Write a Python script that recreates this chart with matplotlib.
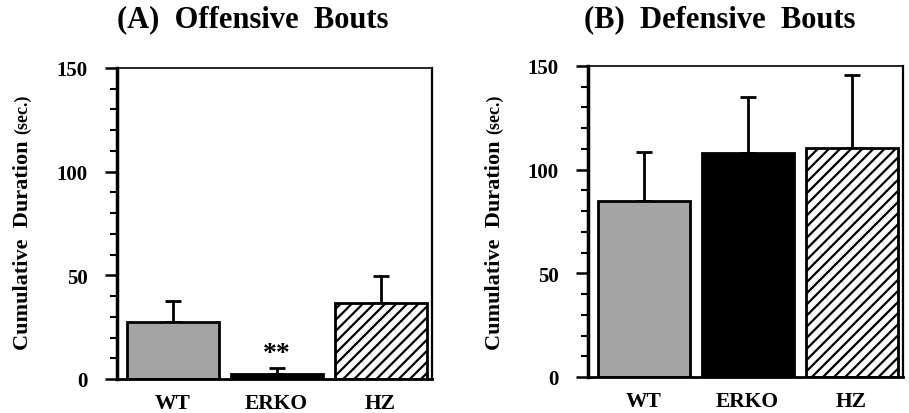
import matplotlib
matplotlib.use("Agg")
import matplotlib.pyplot as plt
from matplotlib.ticker import MultipleLocator

plt.rcParams['font.family'] = ['Liberation Serif', 'DejaVu Serif']
plt.rcParams['font.weight'] = 'bold'
plt.rcParams['hatch.linewidth'] = 1.6

groups = ["WT", "ERKO", "HZ"]
offensive_mean = [27.5, 2.5, 36.5]
offensive_err = [10.0, 3.0, 13.3]
defensive_mean = [85.0, 108.0, 110.5]
defensive_err = [23.5, 27.0, 35.0]
titles = ["(A)  Offensive  Bouts", "(B)  Defensive  Bouts"]
yticks = [0, 50, 100, 150]

W, H = 909, 414
fig = plt.figure(figsize=(W / 100, H / 100), dpi=100)

def px_axes(l, r, t, b):
    return fig.add_axes([l / W, (H - b) / H, (r - l) / W, (b - t) / H])

faces = ['#a4a4a4', 'black', 'white']
hatches = [None, None, '///']

panels = [
    (px_axes(117, 432, 69, 380), offensive_mean, offensive_err, titles[0], 253, 23),
    (px_axes(588, 903, 67, 378), defensive_mean, defensive_err, titles[1], 720, 495),
]

x = list(range(len(groups)))
for ax, means, errs, title, tx, lx in panels:
    bars = ax.bar(x, means, width=0.885, color=faces, edgecolor='black',
                  linewidth=2.0, zorder=2)
    for b, h in zip(bars, hatches):
        if h:
            b.set_hatch(h)
    ax.errorbar(x, means, yerr=[[0] * 3, errs], fmt='none', ecolor='black',
                elinewidth=2.0, capsize=5.5, capthick=2.0, zorder=1)
    ax.set_xlim(-0.534, 2.495)
    ax.set_ylim(0, 150)
    ax.set_yticks(yticks)
    ax.yaxis.set_minor_locator(MultipleLocator(10))
    ax.set_xticks(x)
    ax.set_xticklabels(groups, fontsize=15.5, fontweight='bold')
    ax.tick_params(axis='x', length=0, pad=10)
    ax.tick_params(axis='y', which='major', length=9, width=1.8, labelsize=15, pad=12)
    ax.tick_params(axis='y', which='minor', length=5, width=1.5)
    for lab in ax.get_yticklabels():
        lab.set_fontweight('bold')
    ax.spines['left'].set_linewidth(2.5)
    ax.spines['bottom'].set_linewidth(2.0)
    ax.spines['right'].set_linewidth(1.6)
    ax.spines['top'].set_linewidth(1.2)
    fig.text(tx / W, 1 - 20 / H, title, ha='center', va='center',
             fontsize=22, fontweight='bold')
    t1 = fig.text(lx / W, 1 - 350 / H, "Cumulative  Duration", rotation=90,
                  ha='center', va='bottom', fontsize=16, fontweight='bold')
    fig.canvas.draw()
    bb = t1.get_window_extent()
    fig.text(lx / W, (bb.y1 + 7) / H, "(sec.)", rotation=90,
             ha='center', va='bottom', fontsize=13, fontweight='bold')

panels[0][0].text(1, 6.5, "**", ha='center', va='bottom', fontsize=20,
                  fontweight='bold')

fig.savefig("out.png", dpi=100)
